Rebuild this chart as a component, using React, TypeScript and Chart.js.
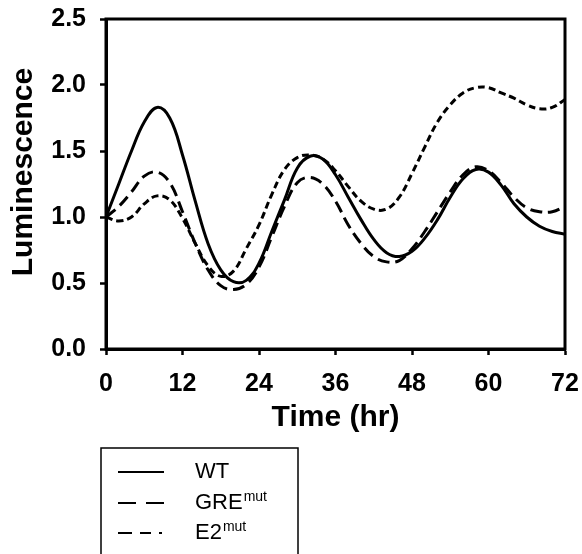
import React, { useEffect, useRef } from "react";
import { Chart, registerables } from "chart.js";

Chart.register(...registerables);

// ---- data ----
const hours = [0, 2, 4, 6, 8, 10, 12, 14, 16, 18, 20, 22, 24, 26, 28, 30, 32, 34, 36, 38, 40, 42, 44, 46, 48, 50, 52, 54, 56, 58, 60, 62, 64, 66, 68, 70, 72];
const wtValues = [1.0, 1.25, 1.5, 1.72, 1.83, 1.75, 1.47, 1.12, 0.8, 0.6, 0.51, 0.52, 0.65, 0.89, 1.13, 1.37, 1.46, 1.44, 1.32, 1.15, 0.98, 0.83, 0.73, 0.7, 0.74, 0.84, 0.98, 1.15, 1.29, 1.36, 1.34, 1.24, 1.1, 1.0, 0.93, 0.89, 0.87];
const greValues = [1.0, 1.08, 1.19, 1.31, 1.34, 1.26, 1.04, 0.8, 0.6, 0.48, 0.45, 0.49, 0.62, 0.85, 1.08, 1.26, 1.3, 1.25, 1.12, 0.94, 0.8, 0.7, 0.66, 0.67, 0.76, 0.89, 1.04, 1.19, 1.32, 1.38, 1.35, 1.26, 1.15, 1.07, 1.04, 1.04, 1.08];
const e2Values = [1.0, 0.97, 1.0, 1.1, 1.16, 1.13, 0.99, 0.8, 0.63, 0.55, 0.59, 0.76, 0.94, 1.17, 1.36, 1.45, 1.47, 1.44, 1.35, 1.23, 1.12, 1.06, 1.06, 1.15, 1.33, 1.53, 1.72, 1.85, 1.94, 1.98, 1.98, 1.94, 1.9, 1.85, 1.82, 1.83, 1.89];
const seriesNames = ["WT", "GRE", "E2"];
const seriesSuperscripts = ["", "mut", "mut"];
const xTitle = "Time (hr)";
const yTitle = "Luminescence";
const xTickStep = 12;
const yTickStep = 0.5;

const FONT = "'Liberation Sans', Arial, Helvetica, sans-serif";

const framePlugin = {
  id: "frame",
  afterDatasetsDraw(chart: any) {
    const { ctx, chartArea: a } = chart;
    ctx.save();
    ctx.strokeStyle = "#000";
    ctx.lineWidth = 3;
    ctx.strokeRect(a.left, a.top, a.right - a.left, a.bottom - a.top);
    ctx.restore();
  },
};

const titlePlugin = {
  id: "axisTitles",
  afterDraw(chart: any) {
    const { ctx, chartArea: a } = chart;
    ctx.save();
    ctx.fillStyle = "#000";
    ctx.font = `bold 30px ${FONT}`;
    ctx.textAlign = "center";
    ctx.textBaseline = "middle";
    ctx.fillText(xTitle, (a.left + a.right) / 2, 418);
    ctx.translate(24, 172);
    ctx.rotate(-Math.PI / 2);
    ctx.fillText(yTitle, 0, 0);
    ctx.restore();
  },
};

const legendPlugin = {
  id: "boxLegend",
  afterDraw(chart: any) {
    const { ctx } = chart;
    ctx.save();
    ctx.strokeStyle = "#000";
    ctx.lineWidth = 1.5;
    ctx.strokeRect(101, 448, 197, 120);
    const rows = [472, 503, 533];
    const dashes = [[], [18, 10], [14, 8, 11, 8, 3, 200]];
    const ends = [164, 164, 170];
    chart.data.datasets.forEach((ds: any, i: number) => {
      const y = rows[i];
      ctx.beginPath();
      ctx.setLineDash(dashes[i]);
      ctx.lineWidth = 2;
      ctx.moveTo(118, y);
      ctx.lineTo(ends[i], y);
      ctx.stroke();
      ctx.setLineDash([]);
      ctx.fillStyle = "#000";
      ctx.textBaseline = "middle";
      ctx.textAlign = "left";
      ctx.font = `22px ${FONT}`;
      ctx.fillText(seriesNames[i], 195, y);
      const w = ctx.measureText(seriesNames[i]).width;
      if (seriesSuperscripts[i]) {
        ctx.font = `14px ${FONT}`;
        ctx.fillText(seriesSuperscripts[i], 195 + w + 1, y - 6);
      }
    });
    ctx.restore();
  },
};

export default function App() {
  const ref = useRef<HTMLCanvasElement | null>(null);
  useEffect(() => {
    if (!ref.current) return;
    const mk = (vals: number[]) => hours.map((h, i) => ({ x: h, y: vals[i] }));
    const chart = new Chart(ref.current, {
      type: "line",
      data: {
        datasets: [
          { label: "WT", data: mk(wtValues), borderColor: "#000", borderWidth: 3, pointRadius: 0, tension: 0.4, fill: false },
          { label: "GREmut", data: mk(greValues), borderColor: "#000", borderWidth: 3, borderDash: [12, 6], pointRadius: 0, tension: 0.4, fill: false },
          { label: "E2mut", data: mk(e2Values), borderColor: "#000", borderWidth: 3, borderDash: [7, 4], pointRadius: 0, tension: 0.4, fill: false },
        ],
      },
      options: {
        animation: false,
        responsive: false,
        layout: { padding: { top: 19, right: 17, left: 0, bottom: 0 } },
        plugins: { legend: { display: false }, tooltip: { enabled: false } },
        scales: {
          x: {
            type: "linear",
            min: 0,
            max: 72,
            afterFit: (s: any) => { s.height = 205; s.paddingLeft = 0; s.paddingRight = 0; },
            ticks: { stepSize: xTickStep, color: "#000", padding: 14, font: { family: FONT, size: 25, weight: "bold" } },
            grid: { drawOnChartArea: false, drawTicks: true, tickLength: 6, tickWidth: 2.5, tickColor: "#000" },
            border: { display: true, color: "#000", width: 3 },
          },
          y: {
            type: "linear",
            min: 0,
            max: 2.5,
            afterFit: (s: any) => { s.width = 106; s.paddingTop = 0; s.paddingBottom = 0; },
            ticks: { stepSize: yTickStep, color: "#000", padding: 14, callback: (v: any) => Number(v).toFixed(1), font: { family: FONT, size: 25, weight: "bold" } },
            grid: { drawOnChartArea: false, drawTicks: true, tickLength: 6, tickWidth: 2.5, tickColor: "#000" },
            border: { display: true, color: "#000", width: 3 },
          },
        },
      },
      plugins: [framePlugin, titlePlugin, legendPlugin],
    });
    return () => chart.destroy();
  }, []);
  return (
    <div style={{ position: "absolute", left: 0, top: 0, width: 582, height: 554, background: "#fff" }}>
      <canvas ref={ref} width={582} height={554} style={{ display: "block" }} />
    </div>
  );
}
